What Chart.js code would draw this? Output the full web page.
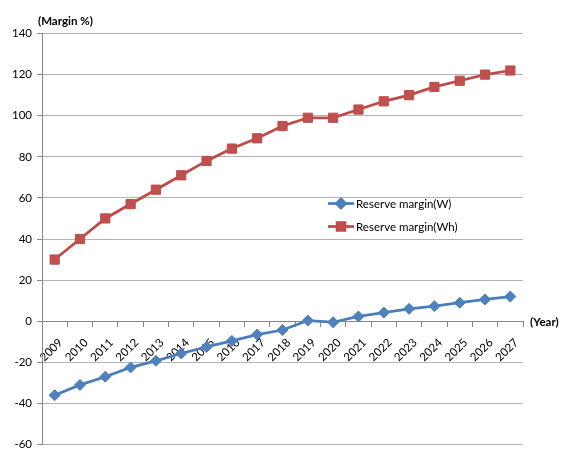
<!DOCTYPE html>
<html>
<head>
<meta charset="utf-8">
<title>Reserve margin</title>
<script src="https://cdn.jsdelivr.net/npm/chart.js@4/dist/chart.umd.min.js"></script>
<style>
  html, body { margin: 0; padding: 0; background: #ffffff; }
  #wrap { width: 561px; height: 449px; }
</style>
</head>
<body>
<div id="wrap"><canvas id="chart" width="561" height="449"></canvas></div>
<script>
// Categories (years) and the two reserve-margin series, in percent
const years = ['2009', '2010', '2011', '2012', '2013', '2014', '2015', '2016', '2017', '2018',
               '2019', '2020', '2021', '2022', '2023', '2024', '2025', '2026', '2027'];
const reserveMarginW  = [-36, -31, -27, -22.5, -19.3, -15.7, -12.5, -9.6, -6.5, -4.3,
                          0.3, -0.5, 2.3, 4.2, 6.0, 7.3, 9.0, 10.6, 12.0];
const reserveMarginWh = [30, 40, 50, 57, 64, 71, 78, 84, 89, 95,
                          99, 99, 103, 107, 110, 114, 117, 120, 122];
const seriesNames = ['Reserve margin(W)', 'Reserve margin(Wh)'];

// Value axis range and step
const yMin = -60, yMax = 140, yStep = 20;
const yTitle = '(Margin %)';
const xTitle = '(Year)';

const FONT = 'Lato, "Open Sans", sans-serif';
const TEXT = '#000000';
const GRID = '#b4b4b4';
const AXIS = '#868686';

// Draws the axis titles and the in-plot legend
const notesPlugin = {
  id: 'notes',
  afterDraw(chart) {
    const { ctx, chartArea, scales } = chart;
    ctx.save();
    ctx.fillStyle = TEXT;
    ctx.font = 'bold 11.5px ' + FONT;
    ctx.textBaseline = 'middle';
    ctx.textAlign = 'left';
    ctx.fillText(yTitle, 38, 21);
    ctx.fillText(xTitle, chartArea.right + 7, scales.y.getPixelForValue(0) + 1);

    // legend
    const lx0 = 328, lx1 = 354, ly = 203.5, gap = 23;
    chart.data.datasets.forEach((ds, i) => {
      const y = ly + i * gap;
      ctx.strokeStyle = ds.borderColor;
      ctx.lineWidth = ds.borderWidth;
      ctx.beginPath();
      ctx.moveTo(lx0, y);
      ctx.lineTo(lx1, y);
      ctx.stroke();
      ctx.fillStyle = ds.pointBackgroundColor;
      ctx.strokeStyle = ds.pointBorderColor;
      Chart.helpers.drawPoint(ctx, {
        pointStyle: ds.pointStyle,
        rotation: 0,
        radius: ds.pointRadius - 1,
        borderWidth: 1
      }, (lx0 + lx1) / 2, y);
      ctx.fillStyle = TEXT;
      ctx.font = '11.5px ' + FONT;
      ctx.textAlign = 'left';
      ctx.fillText(ds.label, lx1 + 2, y + 0.5);
    });
    ctx.restore();
  }
};

new Chart(document.getElementById('chart'), {
  type: 'line',
  data: {
    labels: years,
    datasets: [
      {
        label: seriesNames[0],
        data: reserveMarginW,
        borderColor: '#4A7EBB',
        backgroundColor: '#4F81BD',
        borderWidth: 2.75,
        pointStyle: 'rectRot',
        pointRadius: 5.5,
        pointBackgroundColor: '#4F81BD',
        pointBorderColor: '#4A7EBB',
        pointBorderWidth: 1,
        tension: 0
      },
      {
        label: seriesNames[1],
        data: reserveMarginWh,
        borderColor: '#BE4B48',
        backgroundColor: '#C0504D',
        borderWidth: 2.75,
        pointStyle: 'rect',
        pointRadius: 6.5,
        pointBackgroundColor: '#C0504D',
        pointBorderColor: '#BE4B48',
        pointBorderWidth: 1,
        tension: 0
      }
    ]
  },
  options: {
    responsive: false,
    animation: false,
    layout: { autoPadding: false, padding: { left: 0, top: 33.5, right: 38, bottom: 4.5 } },
    plugins: {
      legend: { display: false },
      tooltip: { enabled: false },
      title: { display: false }
    },
    scales: {
      x: {
        type: 'category',
        position: { y: 0 },
        offset: true,
        afterFit(scale) {
          scale.height = 0;
          scale.paddingTop = 0; scale.paddingBottom = 0;
          scale.paddingLeft = 0; scale.paddingRight = 0;
        },
        grid: {
          offset: true,
          drawOnChartArea: false,
          drawTicks: true,
          tickLength: 5,
          tickColor: AXIS
        },
        border: { display: true, color: AXIS, width: 1 },
        ticks: {
          autoSkip: false,
          minRotation: 45,
          maxRotation: 45,
          padding: 9.5,
          labelOffset: 6,
          color: TEXT,
          font: { family: FONT, size: 11.5 }
        }
      },
      y: {
        min: yMin,
        max: yMax,
        afterFit(scale) {
          scale.width = 42;
          scale.paddingTop = 0; scale.paddingBottom = 0;
        },
        grid: {
          color: GRID,
          lineWidth: 1,
          drawTicks: true,
          tickLength: 5,
          tickColor: AXIS
        },
        border: { display: true, color: AXIS, width: 1 },
        ticks: {
          stepSize: yStep,
          padding: 5,
          color: TEXT,
          font: { family: FONT, size: 11.5 }
        }
      }
    }
  },
  plugins: [notesPlugin]
});
</script>
</body>
</html>
